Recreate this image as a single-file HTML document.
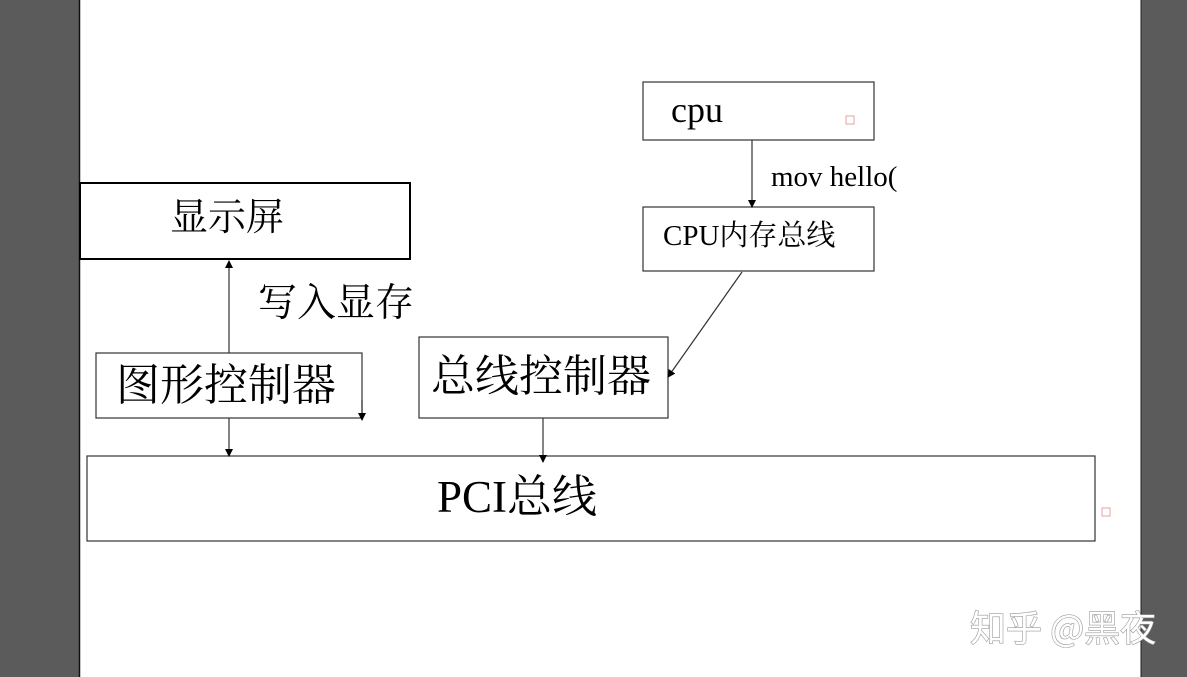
<!DOCTYPE html>
<html><head><meta charset="utf-8"><style>
body{margin:0;background:#fff}
svg{display:block}
text{font-family:"Liberation Serif","Noto Serif CJK SC",serif;fill:#000}
</style></head><body>
<svg width="1187" height="677" viewBox="0 0 1187 677">
<rect x="0" y="0" width="79" height="677" fill="#5b5b5b"/>
<line x1="79.5" y1="0" x2="79.5" y2="677" stroke="#111" stroke-width="1.5"/>
<rect x="1141" y="0" width="46" height="677" fill="#5b5b5b"/>
<line x1="1141" y1="0" x2="1141" y2="677" stroke="#222" stroke-width="1"/>
<defs><marker id="a" markerWidth="8" markerHeight="8" refX="7" refY="4" orient="auto" markerUnits="userSpaceOnUse"><path d="M0,0 L8,4 L0,8 z" fill="#000"/></marker></defs>
<g fill="none" stroke="#333" stroke-width="1.2">
<rect x="80" y="183" width="330" height="76" stroke="#000" stroke-width="2"/>
<rect x="96" y="353" width="266" height="65"/>
<rect x="419" y="337" width="249" height="81"/>
<rect x="87" y="456" width="1008" height="85"/>
<rect x="643" y="82" width="231" height="58"/>
<rect x="643" y="207" width="231" height="64"/>
<line x1="229" y1="353" x2="229" y2="261" marker-end="url(#a)"/>
<line x1="229" y1="418" x2="229" y2="456" marker-end="url(#a)"/>
<line x1="362" y1="400" x2="362" y2="420" marker-end="url(#a)"/>
<line x1="543" y1="418" x2="543" y2="462" marker-end="url(#a)"/>
<line x1="752" y1="140" x2="752" y2="207" marker-end="url(#a)"/>
<line x1="742" y1="272" x2="668" y2="377" marker-end="url(#a)"/>
</g>
<rect x="846" y="116" width="8" height="8" fill="none" stroke="#e8a0a0"/>
<rect x="1102" y="508" width="8" height="8" fill="none" stroke="#e8a0a0"/>
<text x="170" y="230" font-size="38">显示屏</text>
<text x="258" y="316" font-size="39">写入显存</text>
<text x="116" y="400" font-size="44">图形控制器</text>
<text x="431" y="391" font-size="44">总线控制器</text>
<text x="437" y="512" font-size="45">PCI总线</text>
<text x="671" y="122" font-size="36">cpu</text>
<text x="771" y="186" font-size="29">mov hello(</text>
<text x="663" y="245" font-size="29">CPU内存总线</text>
<text x="970" y="641" font-size="36" style="font-family:'Noto Sans CJK SC',sans-serif;fill:#fff;stroke:#999;stroke-width:1.2;paint-order:stroke">知乎 @黑夜</text>
</svg>
</body></html>
